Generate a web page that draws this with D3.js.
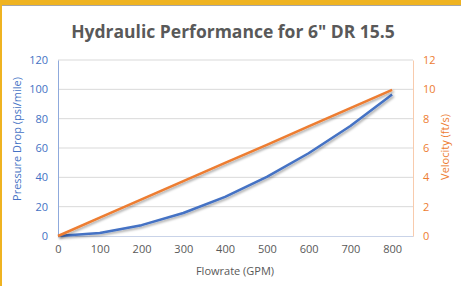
<!DOCTYPE html>
<meta charset="utf-8">
<style>
  body { margin: 0; background: #fff; }
  svg text { font-family: "Open Sans", "Liberation Sans", sans-serif; }
</style>
<svg width="461" height="286"></svg>
<script src="https://d3js.org/d3.v7.min.js"></script>
<script>
  // values
  var flow = [0, 100, 200, 300, 400, 500, 600, 700, 800];
  var pressure = [0, 2, 7.4, 15.7, 26.7, 40.3, 56.4, 75, 96.5];
  var velocity = [0, 1.25, 2.5, 3.74, 4.98, 6.22, 7.47, 8.72, 9.96];
  var xTicks = [0, 100, 200, 300, 400, 500, 600, 700, 800];
  var leftTicks = [0, 20, 40, 60, 80, 100, 120];
  var rightTicks = [0, 2, 4, 6, 8, 10, 12];

  var svg = d3.select("svg");
  var blue = "#4472c4", orange = "#ed7d31";

  // frame
  svg.append("rect").attr("width", 461).attr("height", 286).attr("fill", "#fff");
  svg.append("rect").attr("x", 0).attr("y", 0).attr("width", 461).attr("height", 5).attr("fill", "#efb321");
  svg.append("rect").attr("x", 0).attr("y", 5).attr("width", 461).attr("height", 1).attr("fill", "#a6a6a6");
  svg.append("rect").attr("x", 0).attr("y", 0).attr("width", 2).attr("height", 286).attr("fill", "#efb321");

  var x = d3.scaleLinear().domain([0, 850]).range([58, 413]);
  var yL = d3.scaleLinear().domain([0, 120]).range([236, 60]);
  var yR = d3.scaleLinear().domain([0, 12]).range([236, 60]);

  svg.append("text")
    .attr("x", 233).attr("y", 38)
    .attr("text-anchor", "middle")
    .attr("font-size", 17.5).attr("font-weight", "bold")
    .attr("fill", "#595959")
    .text("Hydraulic Performance for 6\" DR 15.5");

  // gridlines
  svg.append("g").selectAll("line").data(leftTicks.slice(1)).enter().append("line")
    .attr("x1", 58).attr("x2", 413)
    .attr("y1", function(d) { return yL(d); }).attr("y2", function(d) { return yL(d); })
    .attr("stroke", "#d9d9d9").attr("stroke-width", 1);

  // bottom axis
  var gx = svg.append("g").attr("transform", "translate(0,236)")
    .call(d3.axisBottom(x).tickValues(xTicks).tickSize(0).tickPadding(9));
  gx.select(".domain").attr("stroke", "#c9d3e8");
  gx.selectAll("text").attr("fill", "#595959").attr("font-size", 11);

  // left axis
  var gl = svg.append("g").attr("transform", "translate(58,0)")
    .call(d3.axisLeft(yL).tickValues(leftTicks).tickSize(0).tickPadding(10));
  gl.select(".domain").attr("stroke", "#8faadc");
  gl.selectAll("text").attr("fill", blue).attr("font-size", 11);

  // right axis
  var gr = svg.append("g").attr("transform", "translate(413,0)")
    .call(d3.axisRight(yR).tickValues(rightTicks).tickSize(0).tickPadding(10));
  gr.select(".domain").attr("stroke", "#f8cbad");
  gr.selectAll("text").attr("fill", orange).attr("font-size", 11);

  // axis titles
  svg.append("text")
    .attr("transform", "translate(21,139) rotate(-90)")
    .attr("text-anchor", "middle").attr("font-size", 11).attr("fill", blue)
    .text("Pressure Drop (psi/mile)");
  svg.append("text")
    .attr("transform", "translate(449,147) rotate(-90)")
    .attr("text-anchor", "middle").attr("font-size", 11).attr("fill", orange)
    .text("Velocity (ft/s)");
  svg.append("text")
    .attr("x", 235).attr("y", 275)
    .attr("text-anchor", "middle").attr("font-size", 11).attr("fill", "#595959")
    .text("Flowrate (GPM)");

  // drop shadow like the spreadsheet lines
  var defs = svg.append("defs");
  var f = defs.append("filter").attr("id", "shadow").attr("x", "-10%").attr("y", "-10%").attr("width", "130%").attr("height", "130%");
  f.append("feDropShadow").attr("dx", 1.5).attr("dy", 1.5).attr("stdDeviation", 1)
    .attr("flood-color", "#000").attr("flood-opacity", 0.35);

  var lineL = d3.line().x(function(d, i) { return x(flow[i]); }).y(function(d) { return yL(d); });
  var lineR = d3.line().x(function(d, i) { return x(flow[i]); }).y(function(d) { return yR(d); });

  svg.append("path").datum(pressure).attr("d", lineL)
    .attr("fill", "none").attr("stroke", blue).attr("stroke-width", 2.5)
    .attr("stroke-linejoin", "round").attr("filter", "url(#shadow)");
  svg.append("path").datum(velocity).attr("d", lineR)
    .attr("fill", "none").attr("stroke", orange).attr("stroke-width", 2.5)
    .attr("stroke-linejoin", "round").attr("filter", "url(#shadow)");
</script>
